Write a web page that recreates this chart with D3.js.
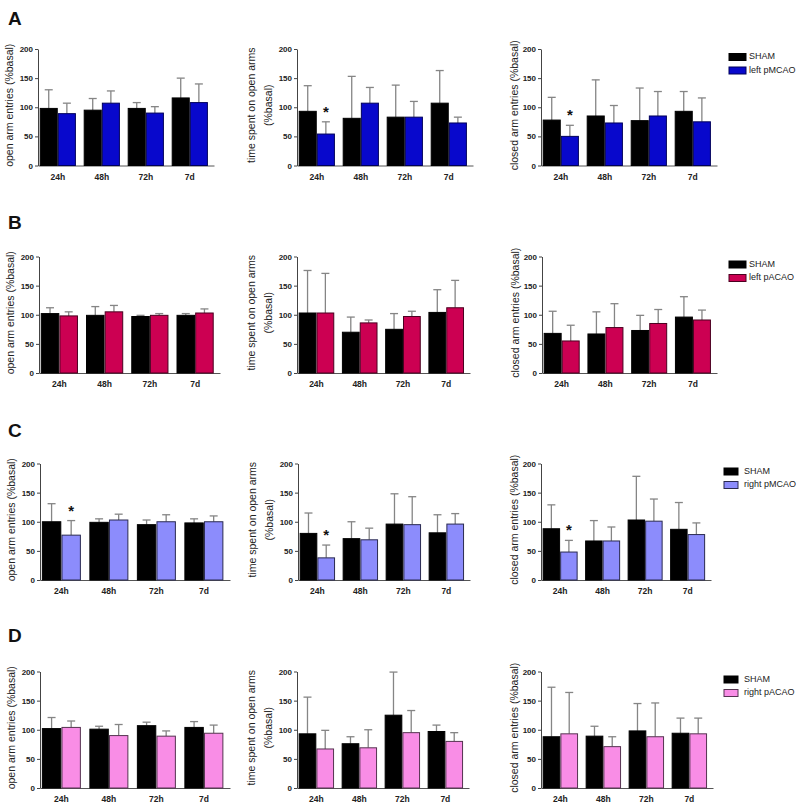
<!DOCTYPE html>
<html>
<head>
<meta charset="utf-8">
<script src="https://cdn.jsdelivr.net/npm/d3@7"></script>
<style>
  body { margin: 0; background: #fff; }
  svg { display: block; font-family: "Liberation Sans", Arial, sans-serif; }
</style>
</head>
<body>
<div id="chart"></div>
<script>
const timepoints = ['24h', '48h', '72h', '7d'];
const yTicks = [0, 50, 100, 150, 200];
const rowLabels = ['A', 'B', 'C', 'D'];
const lesionNames = ['left pMCAO', 'left pACAO', 'right pMCAO', 'right pACAO'];
const panelTitles = [
  ['open arm entries (%basal)'],
  ['time spent on open arms', '(%basal)'],
  ['closed arm entries (%basal)']
];

// open arm entries (%basal), rows A-D
const shamOpenEntries = [[98, 95, 98, 116], [102, 99, 97, 99], [100, 99, 95, 98], [102, 101, 107, 104]];
const shamOpenEntriesErr = [[32, 20, 10, 34], [10, 15, 2, 3], [31, 6, 8, 7], [19, 5, 6, 10]];
const lesionOpenEntries = [[89, 107, 90, 108], [98, 105, 99, 103], [77, 103, 100, 100], [104, 90, 89, 94]];
const lesionOpenEntriesErr = [[18, 21, 11, 32], [7, 11, 3, 7], [25, 10, 12, 10], [11, 19, 9, 14]];

// time spent on open arms (%basal)
const shamOpenTime = [[93, 81, 83, 107], [103, 70, 75, 104], [80, 71, 96, 81], [93, 76, 125, 97]];
const shamOpenTimeErr = [[44, 72, 55, 56], [73, 26, 27, 39], [35, 29, 52, 31], [63, 12, 74, 11]];
const lesionOpenTime = [[54, 107, 83, 73], [103, 86, 97, 112], [38, 69, 95, 96], [67, 69, 95, 80]];
const lesionOpenTimeErr = [[21, 27, 27, 10], [68, 5, 9, 47], [22, 20, 48, 18], [32, 31, 38, 15]];

// closed arm entries (%basal)
const shamClosedEntries = [[78, 85, 77, 93], [68, 67, 73, 96], [88, 67, 103, 87], [88, 89, 98, 94]];
const shamClosedEntriesErr = [[39, 62, 56, 34], [38, 38, 26, 35], [41, 35, 75, 46], [85, 17, 47, 26]];
const lesionClosedEntries = [[50, 73, 85, 75], [55, 78, 85, 91], [48, 67, 101, 78], [93, 71, 88, 93]];
const lesionClosedEntriesErr = [[19, 30, 42, 41], [27, 41, 24, 17], [20, 24, 38, 20], [71, 17, 58, 27]];

// * on the lesion bar at 24h, per row and panel
const star24h = [[0, 1, 1], [0, 0, 0], [1, 1, 1], [0, 0, 0]];

const shamMeans = [shamOpenEntries, shamOpenTime, shamClosedEntries];
const shamErrs = [shamOpenEntriesErr, shamOpenTimeErr, shamClosedEntriesErr];
const lesionMeans = [lesionOpenEntries, lesionOpenTime, lesionClosedEntries];
const lesionErrs = [lesionOpenEntriesErr, lesionOpenTimeErr, lesionClosedEntriesErr];

// layout
const width = 800, height = 804;
const rowTop = [49, 256.5, 463.5, 671.5];
const plotH = 116.5;
const rowLabelY = [25, 229, 437, 642];
const panelX = [
  [[38, 214], [297, 473], [541, 717]],
  [[39, 220], [297, 470], [542, 717]],
  [[40, 230], [298, 470], [541, 711]],
  [[40, 230], [297, 469], [541, 713]]
];
const legendX = [729, 729, 724, 724];
const legendW = [17, 17, 14, 14];
const titleOffset = [[-28], [-45, -28], [-26]];

const fillColors = ['#0808cc', '#cc0052', '#8c8cfc', '#f98de6'];
const edgeColors = ['#00005a', '#4a0020', '#2a2a50', '#553350'];
const errColor = '#858585';

const svg = d3.select('#chart')
  .append('svg')
  .attr('width', width)
  .attr('height', height);

svg.append('rect').attr('width', width).attr('height', height).attr('fill', '#fff');

rowLabels.forEach((label, r) => {
  const top = rowTop[r];
  const bottom = top + plotH;

  svg.append('text')
    .attr('x', 8)
    .attr('y', rowLabelY[r])
    .attr('font-size', 19)
    .attr('font-weight', 'bold')
    .attr('fill', '#111')
    .text(label);

  for (let c = 0; c < 3; c++) {
    const [xa, xb] = panelX[r][c];
    const y = d3.scaleLinear().domain([0, 200]).range([bottom, top]);
    const x0 = d3.scaleBand().domain(timepoints).range([xa, xb])
      .paddingInner(0.2).paddingOuter(0.1).align(0.25);
    const x1 = d3.scaleBand().domain(['sham', 'lesion']).range([0, x0.bandwidth()])
      .paddingInner(0.06);

    const g = svg.append('g');

    // y axis
    const yAxis = g.append('g')
      .attr('transform', `translate(${xa},0)`)
      .call(d3.axisLeft(y).tickValues(yTicks).tickSize(3).tickSizeOuter(0).tickPadding(2));
    yAxis.selectAll('text').attr('font-size', 8).attr('font-weight', 'bold').attr('fill', '#222');
    yAxis.selectAll('line, path').attr('stroke', '#444');

    // x axis
    const xAxis = g.append('g')
      .attr('transform', `translate(0,${bottom})`)
      .call(d3.axisBottom(x0).tickSize(0).tickSizeOuter(0).tickPadding(8));
    xAxis.selectAll('text').attr('font-size', 8.5).attr('font-weight', 'bold').attr('fill', '#222');
    xAxis.select('.domain').attr('stroke', '#555');

    const rows = timepoints.map((t, i) => ({
      t,
      bars: [
        { key: 'sham', mean: shamMeans[c][r][i], err: shamErrs[c][r][i] },
        { key: 'lesion', mean: lesionMeans[c][r][i], err: lesionErrs[c][r][i] }
      ]
    }));

    const groups = g.selectAll('g.grp')
      .data(rows)
      .enter()
      .append('g')
      .attr('class', 'grp')
      .attr('transform', d => `translate(${x0(d.t)},0)`);

    const bar = groups.selectAll('g.bar')
      .data(d => d.bars)
      .enter()
      .append('g')
      .attr('class', 'bar');

    const cx = d => x1(d.key) + x1.bandwidth() / 2;

    bar.append('line')
      .attr('x1', cx).attr('x2', cx)
      .attr('y1', d => y(d.mean)).attr('y2', d => y(d.mean + d.err))
      .attr('stroke', errColor).attr('stroke-width', 1.3);
    bar.append('line')
      .attr('x1', d => cx(d) - 4).attr('x2', d => cx(d) + 4)
      .attr('y1', d => y(d.mean + d.err)).attr('y2', d => y(d.mean + d.err))
      .attr('stroke', errColor).attr('stroke-width', 1.3);

    bar.append('rect')
      .attr('x', d => x1(d.key))
      .attr('y', d => y(d.mean))
      .attr('width', x1.bandwidth())
      .attr('height', d => bottom - y(d.mean))
      .attr('fill', d => d.key === 'sham' ? '#000' : fillColors[r])
      .attr('stroke', d => d.key === 'sham' ? '#000' : edgeColors[r])
      .attr('stroke-width', 1);

    if (star24h[r][c]) {
      const m = lesionMeans[c][r][0] + lesionErrs[c][r][0];
      g.append('text')
        .attr('x', x0('24h') + x1('lesion') + x1.bandwidth() / 2)
        .attr('y', y(m) - 5)
        .attr('text-anchor', 'middle')
        .attr('font-size', 15)
        .attr('font-weight', 'bold')
        .attr('fill', '#111')
        .text('*');
    }

    // axis title
    const mid = (top + bottom) / 2 - 2;
    panelTitles[c].forEach((line, k) => {
      g.append('text')
        .attr('transform', `translate(${xa + titleOffset[c][k]},${mid}) rotate(-90)`)
        .attr('text-anchor', 'middle')
        .attr('dominant-baseline', 'middle')
        .attr('font-size', 10.5)
        .attr('fill', '#222')
        .text(line);
    });
  }

  // legend
  const lg = svg.append('g')
    .attr('transform', `translate(${legendX[r]},${top + 8})`);
  ['SHAM', lesionNames[r]].forEach((name, k) => {
    lg.append('rect')
      .attr('x', 0)
      .attr('y', k * 13.5 - 3.5)
      .attr('width', legendW[r])
      .attr('height', 7)
      .attr('fill', k === 0 ? '#000' : fillColors[r])
      .attr('stroke', k === 0 ? '#000' : edgeColors[r]);
    lg.append('text')
      .attr('x', 20)
      .attr('y', k * 13.5)
      .attr('dominant-baseline', 'middle')
      .attr('font-size', 9)
      .attr('fill', '#222')
      .text(name);
  });
});
</script>
</body>
</html>
